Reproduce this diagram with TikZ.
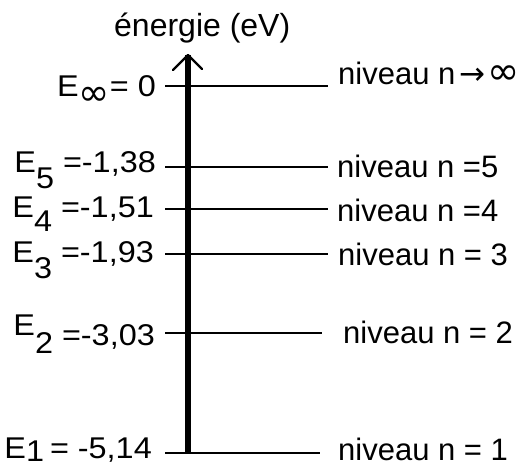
\documentclass[tikz,border=0pt]{standalone}
\usepackage{fontspec}
\setmainfont{Liberation Sans}
\newfontfamily\widefont{Liberation Sans}[FakeStretch=1.08]
\newfontfamily\symbfont{DejaVu Sans}
\usepackage{graphicx}

\begin{document}
\begin{tikzpicture}[x=1bp, y=-1bp,
    level/.style={line width=1.8bp},
    axis/.style={line width=5.5bp},
    wing/.style={line width=2.4bp, line cap=round, line join=round},
    lhs/.style={font=\widefont\fontsize{30bp}{36bp}\selectfont, anchor=base east, inner sep=0pt},
    rhs/.style={font=\fontsize{31bp}{37bp}\selectfont, anchor=base west, inner sep=0pt}]
  \useasboundingbox (0,0) rectangle (527,468);
  % energy axis
  \coordinate (bot) at (188,453);
  \coordinate (tip) at (188,55);
  \draw[axis] (bot) -- (tip);
  \draw[wing] (173,70) -- (tip) -- (202,69);
  \node[font=\fontsize{32bp}{38bp}\selectfont, anchor=base west, inner sep=0pt] (titre) at (114,37) {énergie (eV)};
  % levels
  \coordinate (a0) at (165,86);  \coordinate (b0) at (328,86);
  \coordinate (a5) at (165,167); \coordinate (b5) at (328,167);
  \coordinate (a4) at (165,209); \coordinate (b4) at (328,209);
  \coordinate (a3) at (165,254); \coordinate (b3) at (328,254);
  \coordinate (a2) at (165,333); \coordinate (b2) at (322,333);
  \coordinate (a1) at (165,453); \coordinate (b1) at (320,453);
  \draw[level] (a0) -- (b0);
  \draw[level] (a5) -- (b5);
  \draw[level] (a4) -- (b4);
  \draw[level] (a3) -- (b3);
  \draw[level] (a2) -- (b2);
  \draw[level] (a1) -- (b1);
  % energies
  \node[lhs] (E0) at (156,97)  {E\raisebox{-9bp}{\symbfont\scalebox{1.25}{∞}}= 0};
  \node[lhs] (E5) at (156,173) {E\raisebox{-16bp}{5} =-1,38};
  \node[lhs] (E4) at (154,218) {E\raisebox{-14bp}{4} =-1,51};
  \node[lhs] (E3) at (154,263) {E\raisebox{-15bp}{3} =-1,93};
  \node[lhs] (E2) at (155,345) {\raisebox{10bp}{E}\raisebox{-8bp}{2} =-3,03};
  \node[lhs] (E1) at (152,458) {E\raisebox{-3bp}{1}\kern6bp= -5,14};
  % level names
  \node[rhs] (n0) at (338,85)  {niveau n\kern4bp{\symbfont→\kern2bp\scalebox{1.25}{∞}}};
  \node[rhs] (n5) at (337,178) {niveau n =5};
  \node[rhs] (n4) at (337,222) {niveau n =4};
  \node[rhs] (n3) at (338,265) {niveau n = 3};
  \node[rhs] (n2) at (343,343) {niveau n = 2};
  \node[rhs] (n1) at (338,460) {niveau n = 1};
\end{tikzpicture}
\end{document}
